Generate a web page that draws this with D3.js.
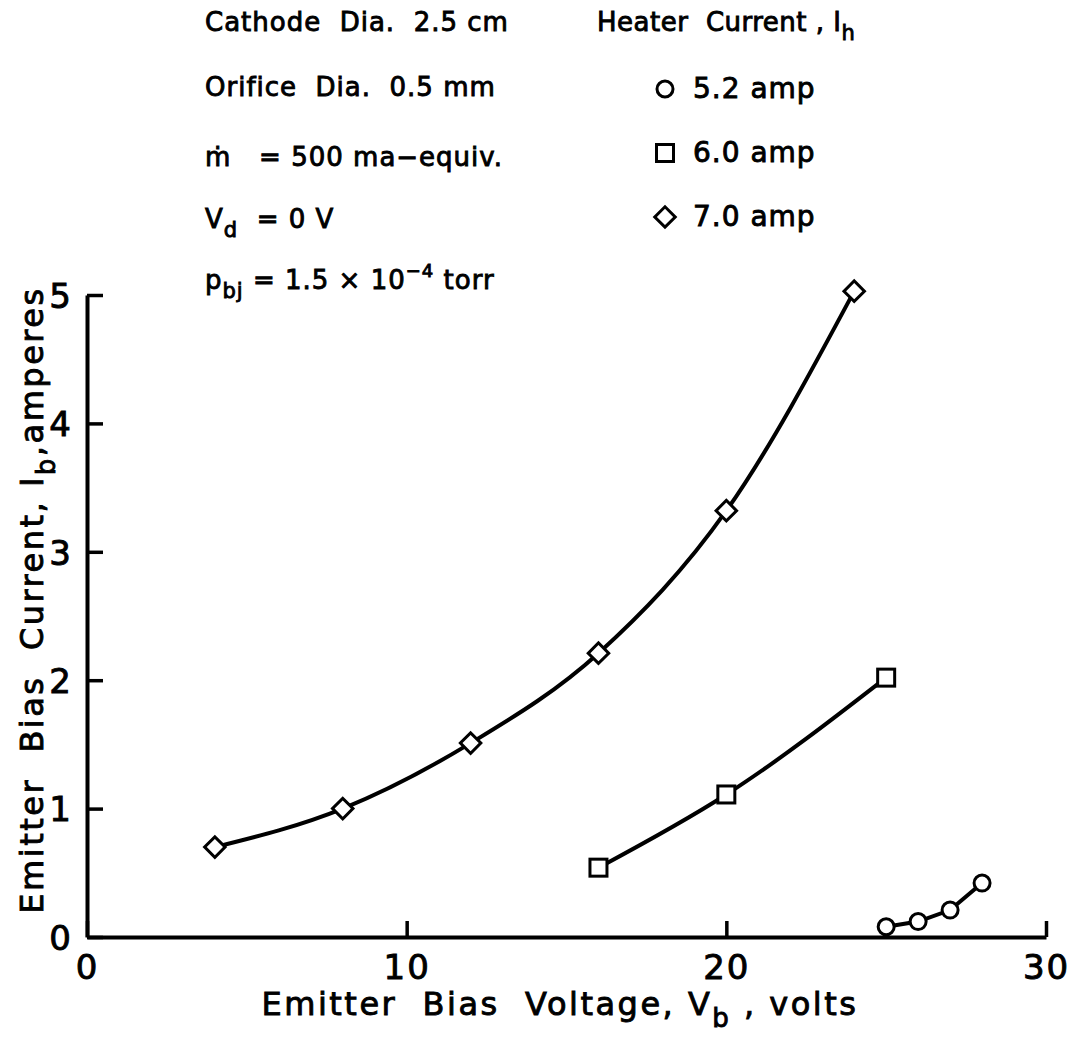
<!DOCTYPE html>
<html>
<head>
<meta charset="utf-8">
<script src="https://cdn.jsdelivr.net/npm/d3@7"></script>
<style>
  body { margin: 0; background: #fff; }
  text { font-family: "DejaVu Sans", sans-serif; fill: #000; stroke: #000; stroke-width: 0.9px; white-space: pre; }
</style>
</head>
<body>
<script>
// data
const xTicks = [0, 10, 20, 30];
const yTicks = [0, 1, 2, 3, 4, 5];

const volts52 = [25, 26, 27, 28];
const amps52 = [0.08, 0.12, 0.21, 0.42];
const volts60 = [16, 20, 25];
const amps60 = [0.54, 1.11, 2.02];
const volts70 = [4, 8, 12, 16, 20, 24];
const amps70 = [0.70, 1.00, 1.51, 2.21, 3.32, 5.03];

const heaterLabels = ["5.2 amp", "6.0 amp", "7.0 amp"];
const heaterShapes = ["circle", "square", "diamond"];

const W = 1088, H = 1041;

const x = d3.scaleLinear().domain([0, 30]).range([87, 1046]);
const y = d3.scaleLinear().domain([0, 5]).range([937, 295]);

const svg = d3.select("body").append("svg")
    .attr("width", W)
    .attr("height", H);

// axes
const xAxis = d3.axisBottom(x).tickValues(xTicks).tickFormat(d3.format("d"))
    .tickSizeInner(-16).tickSizeOuter(0).tickPadding(18);
const yAxis = d3.axisLeft(y).tickValues(yTicks).tickFormat(d3.format("d"))
    .tickSizeInner(-16).tickSizeOuter(0).tickPadding(14);

const gx = svg.append("g")
    .attr("transform", "translate(0," + y(0) + ")")
    .call(xAxis);
const gy = svg.append("g")
    .attr("transform", "translate(" + x(0) + ",0)")
    .call(yAxis);

[gx, gy].forEach(g => {
    g.select(".domain").attr("stroke", "#000").attr("stroke-width", 4);
    g.selectAll(".tick line").attr("stroke", "#000").attr("stroke-width", 3.5);
    g.selectAll(".tick text")
        .style("font-family", "DejaVu Sans")
        .style("font-size", "34px")
        .style("letter-spacing", "2px");
});
gx.selectAll(".tick text").attr("dy", "0.71em");
gy.selectAll(".tick text").attr("dy", "0.36em");

// curves
function series(vs, as) { return vs.map((v, i) => ({ v: v, a: as[i] })); }
const data = [
    { pts: series(volts52, amps52), shape: "circle", curve: d3.curveLinear },
    { pts: series(volts60, amps60), shape: "square", curve: d3.curveMonotoneX },
    { pts: series(volts70, amps70), shape: "diamond", curve: d3.curveMonotoneX }
];

const line = d3.line().x(d => x(d.v)).y(d => y(d.a));

function marker(g, shape, cx, cy) {
    if (shape === "circle") {
        g.append("circle").attr("cx", cx).attr("cy", cy).attr("r", 8)
            .attr("fill", "#fff").attr("stroke", "#000").attr("stroke-width", 3);
    } else if (shape === "square") {
        g.append("rect").attr("x", cx - 8.5).attr("y", cy - 8.5).attr("width", 17).attr("height", 17)
            .attr("fill", "#fff").attr("stroke", "#000").attr("stroke-width", 3);
    } else {
        g.append("path")
            .attr("d", d3.symbol(d3.symbolSquare, 210)())
            .attr("transform", "translate(" + cx + "," + cy + ") rotate(45)")
            .attr("fill", "#fff").attr("stroke", "#000").attr("stroke-width", 3);
    }
}

data.forEach(s => {
    svg.append("path")
        .attr("d", line.curve(s.curve)(s.pts))
        .attr("fill", "none")
        .attr("stroke", "#000")
        .attr("stroke-width", 4);
    const g = svg.append("g");
    s.pts.forEach(p => marker(g, s.shape, x(p.v), y(p.a)));
});

// axis titles
const xl = svg.append("text")
    .attr("x", 560).attr("y", 1015)
    .attr("text-anchor", "middle")
    .style("font-size", "32px").style("letter-spacing", "2.5px");
xl.append("tspan").text("Emitter  Bias  Voltage, V");
xl.append("tspan").attr("dy", 12).style("font-size", "26px").text("b");
xl.append("tspan").attr("dy", -12).text(" , volts");

const yl = svg.append("text")
    .attr("transform", "translate(43,600) rotate(-90)")
    .attr("text-anchor", "middle")
    .style("font-size", "32px").style("letter-spacing", "2.5px");
yl.append("tspan").text("Emitter  Bias  Current, I");
yl.append("tspan").attr("dy", 12).style("font-size", "26px").text("b");
yl.append("tspan").attr("dy", -12).text(",amperes");

// condition notes
const notes = svg.append("g").style("font-size", "26px").style("letter-spacing", "1px");
notes.append("text").attr("x", 205).attr("y", 31).text("Cathode  Dia.  2.5 cm");
notes.append("text").attr("x", 205).attr("y", 96).text("Orifice  Dia.  0.5 mm");
notes.append("text").attr("x", 205).attr("y", 166).text("ṁ   = 500 ma−equiv.");
const vd = notes.append("text").attr("x", 205).attr("y", 228);
vd.append("tspan").text("V");
vd.append("tspan").attr("dy", 9).style("font-size", "21px").text("d");
vd.append("tspan").attr("dy", -9).text("  = 0 V");
const pb = notes.append("text").attr("x", 205).attr("y", 289);
pb.append("tspan").text("p");
pb.append("tspan").attr("dy", 9).style("font-size", "21px").text("bj");
pb.append("tspan").attr("dy", -9).text(" = 1.5 × 10");
pb.append("tspan").attr("dy", -12).style("font-size", "18px").text("−4");
pb.append("tspan").attr("dy", 12).text(" torr");

const ht = notes.append("text").attr("x", 597).attr("y", 31).style("letter-spacing", "0.5px");
ht.append("tspan").text("Heater  Current , I");
ht.append("tspan").attr("dy", 9).style("font-size", "21px").text("h");

const legRows = [98, 162, 226];
heaterLabels.forEach((lab, i) => {
    const cy = legRows[i] - 9;
    marker(notes, heaterShapes[i], 665, cy);
    notes.append("text").attr("x", 693).attr("y", legRows[i])
        .style("font-size", "28px").text(lab);
});
</script>
</body>
</html>
